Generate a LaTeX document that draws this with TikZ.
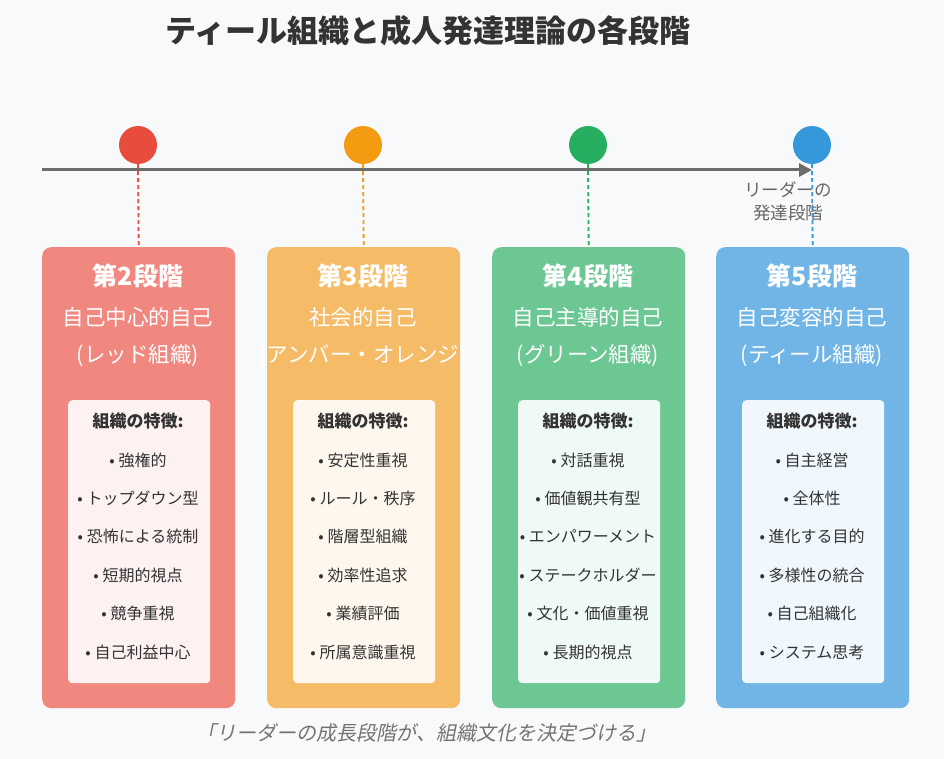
\documentclass[tikz,border=0pt]{standalone}
\usepackage{fontspec}
\setmainfont{Noto Sans CJK JP}
\usetikzlibrary{arrows.meta}
\definecolor{bg}{HTML}{F8F9FA}
\definecolor{cR}{HTML}{E74C3C}\definecolor{bR}{HTML}{F08880}\definecolor{iR}{HTML}{FDF2F1}
\definecolor{cO}{HTML}{F39C12}\definecolor{bO}{HTML}{F5BB66}\definecolor{iO}{HTML}{FEF7EE}
\definecolor{cG}{HTML}{27AE60}\definecolor{bG}{HTML}{6CC792}\definecolor{iG}{HTML}{F0FAF4}
\definecolor{cB}{HTML}{3498DB}\definecolor{bB}{HTML}{70B5E6}\definecolor{iB}{HTML}{F0F7FD}
\definecolor{tx}{HTML}{333333}
\begin{document}
\begin{tikzpicture}[x=1pt,y=-1pt,
  stagebox/.style={rounded corners=9pt,minimum width=193pt,minimum height=461pt,anchor=north west,inner sep=0pt},
  innerbox/.style={rounded corners=4pt,minimum width=142pt,minimum height=283pt,anchor=north west,inner sep=0pt},
  dot/.style={circle,minimum size=38pt,inner sep=0pt},
  head/.style={text=white,font=\bfseries\fontsize{25}{28}\selectfont},
  sub/.style={text=white,font=\fontsize{21.5}{25}\selectfont},
  ihead/.style={text=tx,font=\bfseries\fontsize{17}{20}\selectfont},
  item/.style={text=tx,font=\fontsize{16}{19}\selectfont},
  dline/.style={dashed,line width=1.8pt,dash pattern=on 4pt off 3pt}]
\fill[bg] (0,0) rectangle (944,759);
\useasboundingbox (0,0) rectangle (944,759);
\node[text=tx,font=\bfseries\fontsize{31}{36}\selectfont] (title) at (428,31) {ティール組織と成人発達理論の各段階};
\coordinate (ls) at (42,170);
\coordinate (le) at (812,170);
\draw[line width=3pt,color=gray!85!black,-{Triangle[length=13pt,width=13pt]}] (ls) -- (le);
\node[text=gray!80!black,font=\fontsize{17.5}{21}\selectfont,align=center] (lbl) at (788,201) {リーダーの\\[2pt]発達段階};
\foreach \n/\x/\c/\b/\i/\h/\s/\t/\A/\B/\C/\D/\E/\F in {
 1/42/cR/bR/iR/第2段階/自己中心的自己/(レッド組織)/強権的/トップダウン型/恐怖による統制/短期的視点/競争重視/自己利益中心,
 2/267/cO/bO/iO/第3段階/社会的自己/(アンバー・オレンジ)/安定性重視/ルール・秩序/階層型組織/効率性追求/業績評価/所属意識重視,
 3/492/cG/bG/iG/第4段階/自己主導的自己/(グリーン組織)/対話重視/価値観共有型/エンパワーメント/ステークホルダー/文化・価値重視/長期的視点,
 4/716/cB/bB/iB/第5段階/自己変容的自己/(ティール組織)/自主経営/全体性/進化する目的/多様性の統合/自己組織化/システム思考}{
  \pgfmathsetmacro{\cx}{\x+96}
  \node[stagebox,fill=\b] (box\n) at (\x,247) {};
  \node[dot,fill=\c] (dot\n) at (\cx,145) {};
  \draw[dline,color=\c] (dot\n.south) -- (box\n.north);
  \node[head] (h\n) at (\cx,276) {\h};
  \node[sub] (s\n) at (\cx,317) {\s};
  \node[sub] (t\n) at (\cx,356) {\t};
  \node[innerbox,fill=\i] (in\n) at (\x+26,400) {};
  \node[ihead] (ih\n) at (\cx,421) {組織の特徴:};
  \node[item] (a\n) at (\cx,460) {• \A};
  \node[item] (b\n) at (\cx,498) {• \B};
  \node[item] (c\n) at (\cx,536) {• \C};
  \node[item] (d\n) at (\cx,575) {• \D};
  \node[item] (e\n) at (\cx,613) {• \E};
  \node[item] (f\n) at (\cx,652) {• \F};
}
\node[text=gray!90!black,font=\fontsize{20}{24}\selectfont,xslant=0.2] (quote) at (428,733) {「リーダーの成長段階が、組織文化を決定づける」};
\end{tikzpicture}
\end{document}
